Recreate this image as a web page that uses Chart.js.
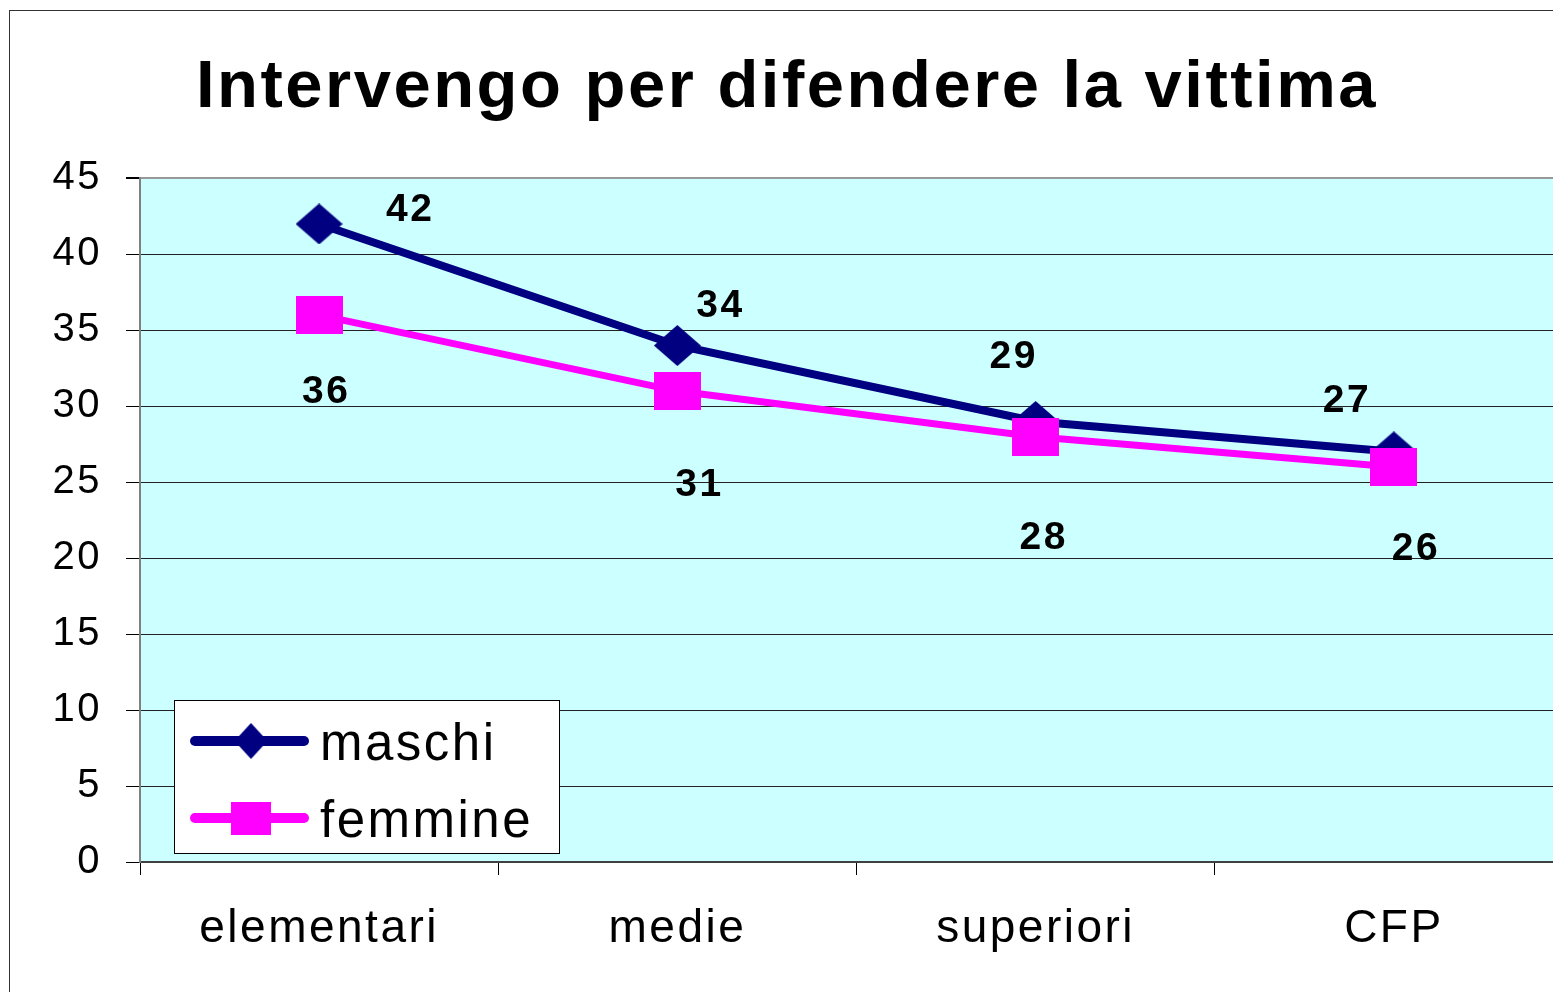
<!DOCTYPE html>
<html>
<head>
<meta charset="utf-8">
<script src="https://cdn.jsdelivr.net/npm/chart.js@4"></script>
<style>
  html, body { margin: 0; padding: 0; background: #fff; overflow: hidden; }
  #frame { position: absolute; left: 9px; top: 10px; width: 1600px; height: 1000px; border: 1px solid #333; }
  #chart { display: block; }
</style>
</head>
<body>
<div id="frame"><canvas id="chart" width="1580" height="981"></canvas></div>
<script>
// DATI
const categorie = ["elementari", "medie", "superiori", "CFP"];
const maschi = [42, 34, 29, 27];
const femmine = [36, 31, 28, 26];
const yMax = 45;
const yStep = 5;

const FONT = "'Liberation Sans', Arial, sans-serif";
const NAVY = "#000080";
const MAGENTA = "#FF00FF";

// MARKER
function diamond(w, h, color) {
  const c = document.createElement("canvas");
  c.width = w;
  c.height = h;
  const g = c.getContext("2d");
  g.fillStyle = color;
  g.beginPath();
  g.moveTo(w / 2, 0);
  g.lineTo(w, h / 2);
  g.lineTo(w / 2, h);
  g.lineTo(0, h / 2);
  g.closePath();
  g.fill();
  return c;
}

function square(w, h, color) {
  const c = document.createElement("canvas");
  c.width = w;
  c.height = h;
  const g = c.getContext("2d");
  g.fillStyle = color;
  g.fillRect(0, 0, w, h);
  return c;
}

// SFONDO + SPAZIATURA
const sfondo = {
  id: "sfondo",
  beforeLayout(chart) {
    chart.ctx.letterSpacing = "2.5px";
  },
  beforeDraw(chart) {
    const { ctx, chartArea: a } = chart;
    ctx.letterSpacing = "2.5px";
    ctx.save();
    ctx.fillStyle = "#CCFFFF";
    ctx.fillRect(a.left, a.top, a.right - a.left, a.bottom - a.top);
    ctx.restore();
  },
};

// ETICHETTE VALORI
const etichette = {
  id: "etichette",
  afterDatasetsDraw(chart, args, opts) {
    const ctx = chart.ctx;
    ctx.save();
    ctx.font = "bold 39px " + FONT;
    ctx.fillStyle = "#000";
    ctx.textAlign = "center";
    ctx.textBaseline = "alphabetic";
    chart.data.datasets.forEach((ds, i) => {
      const meta = chart.getDatasetMeta(i);
      meta.data.forEach((pt, j) => {
        const off = opts.offsets[i][j];
        ctx.fillText(String(ds.data[j]), pt.x + off[0] + 1, pt.y + off[1] + 14);
      });
    });
    ctx.restore();
  },
};

// LEGENDA
const legenda = {
  id: "legenda",
  afterDraw(chart, args, opts) {
    const { ctx, chartArea: a } = chart;
    const x = a.left + 34;
    const y = a.bottom - 162;
    const w = 385;
    const h = 153;
    ctx.save();
    ctx.fillStyle = "#fff";
    ctx.fillRect(x, y, w, h);
    ctx.strokeStyle = "#000";
    ctx.lineWidth = 1;
    ctx.strokeRect(x + 0.5, y + 0.5, w, h);
    chart.data.datasets.forEach((ds, i) => {
      const cy = y + opts.rows[i];
      ctx.strokeStyle = ds.borderColor;
      ctx.lineWidth = 10;
      ctx.lineCap = "round";
      ctx.beginPath();
      ctx.moveTo(x + 21, cy);
      ctx.lineTo(x + 130, cy);
      ctx.stroke();
      const m = opts.markers[i];
      ctx.drawImage(m, x + 77 - m.width / 2, cy - m.height / 2);
      ctx.fillStyle = "#000";
      ctx.font = "51px " + FONT;
      ctx.textAlign = "left";
      ctx.textBaseline = "alphabetic";
      ctx.fillText(ds.label, x + 146, cy + 19);
    });
    ctx.restore();
  },
};

const chart = new Chart(document.getElementById("chart"), {
  type: "line",
  data: {
    labels: categorie,
    datasets: [
      {
        label: "maschi",
        data: maschi,
        borderColor: NAVY,
        backgroundColor: NAVY,
        borderWidth: 8,
        pointStyle: diamond(47, 41, NAVY),
        order: 1,
      },
      {
        label: "femmine",
        data: femmine,
        borderColor: MAGENTA,
        backgroundColor: MAGENTA,
        borderWidth: 7,
        pointStyle: square(47, 38, MAGENTA),
        order: 0,
      },
    ],
  },
  options: {
    responsive: false,
    animation: false,
    events: [],
    layout: { padding: { left: -9, right: 17, top: 0, bottom: 39 } },
    elements: { line: { tension: 0 } },
    plugins: {
      legend: { display: false },
      tooltip: { enabled: false },
      title: {
        display: true,
        text: "Intervengo per difendere la vittima",
        color: "#000",
        font: { family: FONT, size: 67, weight: "bold" },
        padding: { top: 37, bottom: 50 },
      },
      etichette: {
        offsets: [
          [[90, -17], [42, -43], [-23, -67], [-48, -54]],
          [[6, 74], [21, 91], [7, 98], [21, 79]],
        ],
      },
      legenda: {
        rows: [41, 118],
        markers: [diamond(33, 36, NAVY), square(40, 33, MAGENTA)],
      },
    },
    scales: {
      x: {
        offset: true,
        grid: {
          offset: true,
          drawOnChartArea: false,
          drawTicks: true,
          tickLength: 13,
          color: "#000",
        },
        border: { color: "#404040", width: 2 },
        ticks: {
          color: "#000",
          font: { family: FONT, size: 46 },
          padding: 27,
          maxRotation: 0,
        },
        afterFit(scale) {
          scale.height = 91;
        },
      },
      y: {
        min: 0,
        max: yMax,
        grid: {
          color: (c) => (c.tick && c.tick.value === yMax ? "#999" : "#222"),
          lineWidth: (c) => (c.tick && c.tick.value === yMax ? 2 : 1),
          tickLength: 14,
          tickColor: "#000",
        },
        border: { color: "#808080", width: 2 },
        ticks: {
          stepSize: yStep,
          color: "#000",
          font: { family: FONT, size: 40 },
          padding: 24,
        },
        afterFit(scale) {
          scale.width = 139;
        },
      },
    },
  },
  plugins: [sfondo, etichette, legenda],
});
</script>
</body>
</html>
